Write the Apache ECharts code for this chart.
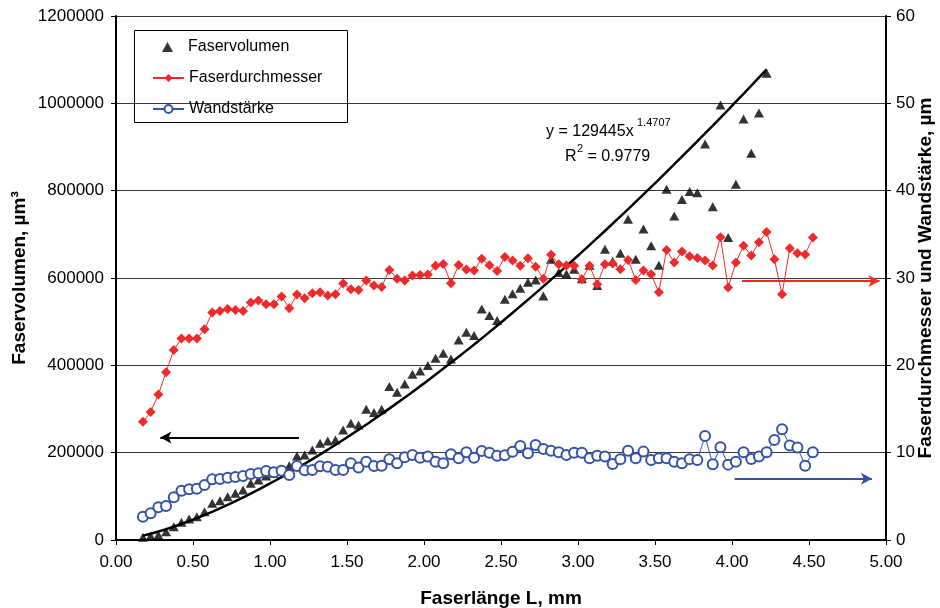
<!DOCTYPE html>
<html><head><meta charset="utf-8">
<script src="https://cdn.jsdelivr.net/npm/echarts@6/dist/echarts.min.js"></script>
<style>html,body{margin:0;padding:0;background:#fff}#c{width:940px;height:608px}</style>
</head><body><div id="c"></div>
<script>
// Faserlänge L, mm (x positions of the measured classes)
const lengthMM = [0.175,0.225,0.275,0.325,0.375,0.425,0.475,0.525,0.575,0.625,
  0.675,0.725,0.775,0.825,0.875,0.925,0.975,1.025,1.075,1.125,
  1.175,1.225,1.275,1.325,1.375,1.425,1.475,1.525,1.575,1.625,
  1.675,1.725,1.775,1.825,1.875,1.925,1.975,2.025,2.075,2.125,
  2.175,2.225,2.275,2.325,2.375,2.425,2.475,2.525,2.575,2.625,
  2.675,2.725,2.775,2.825,2.875,2.925,2.975,3.025,3.075,3.125,
  3.175,3.225,3.275,3.325,3.375,3.425,3.475,3.525,3.575,3.625,
  3.675,3.725,3.775,3.825,3.875,3.925,3.975,4.025,4.075,4.125,
  4.175,4.225,4.275,4.325,4.375,4.425,4.475,4.525];
// Faservolumen, µm³ (first 82 length classes)
const faservolumen = [6100,9200,11500,19100,30500,40500,48100,53500,64900,84000,
  90100,99300,107000,114500,129800,137500,146600,152700,161900,170000,
  192400,194700,206200,221500,226800,229100,252000,267300,263500,299300,
  291700,299300,351300,338300,357400,379500,387200,399400,416200,427600,
  414700,458200,475800,468100,529200,513900,502500,551400,564000,576600,
  590300,595600,559000,643000,612400,609400,620000,598000,629000,583000,
  665900,638500,656700,734600,643000,712000,674000,629000,803300,742000,
  780000,798000,795500,907000,763000,996000,693000,814500,964000,885800,
  978000,1069000];
// Faserdurchmesser, µm
const faserdurchmesser = [13.55,14.66,16.65,19.2,21.76,23.06,23.06,23.06,24.13,26.04,
  26.23,26.46,26.35,26.23,27.19,27.41,27.0,27.0,27.87,26.54,
  28.1,27.68,28.25,28.37,27.99,28.14,29.36,28.71,28.64,29.7,
  29.13,28.98,30.93,29.9,29.7,30.28,30.35,30.39,31.39,31.6,
  29.4,31.5,30.97,30.85,32.2,31.46,30.8,32.4,32.0,31.39,
  32.26,31.3,29.9,32.65,31.58,31.42,31.39,29.86,31.39,29.29,
  31.58,31.65,31.0,32.07,29.78,30.85,30.43,28.37,33.22,31.77,
  33.03,32.5,32.3,32.0,31.42,34.67,28.9,31.77,33.7,32.57,
  34.1,35.28,32.15,28.14,33.41,32.84,32.68,34.63];
// Wandstärke, µm
const wandstaerke = [2.67,3.05,3.74,3.89,4.89,5.65,5.8,5.88,6.3,6.95,
  6.99,7.14,7.22,7.33,7.56,7.64,7.9,7.75,7.94,7.45,
  8.48,7.98,8.02,8.44,8.4,8.02,8.02,8.78,8.29,8.97,
  8.48,8.51,9.24,8.78,9.47,9.74,9.43,9.55,8.97,8.78,
  9.81,9.35,10.04,9.43,10.19,10.0,9.66,9.7,10.1,10.77,
  9.93,10.88,10.42,10.23,10.04,9.74,10.0,10.0,9.35,9.66,
  9.55,8.7,9.24,10.23,9.35,10.12,9.16,9.35,9.35,8.97,
  8.78,9.26,9.16,11.9,8.67,10.61,8.63,8.97,10.04,9.28,
  9.55,10.04,11.45,12.68,10.81,10.58,8.51,10.04];
// Power trendline printed on the chart: y = 129445 x^1.4707, R² = 0.9779
const fitA = 129445, fitB = 1.4707;
const fitRange = [0.175, 4.225];
// Axis ranges / ticks
const xTicks = {min:0, max:5, interval:0.5};
const yLeftTicks = {min:0, max:1200000, interval:200000};
const yRightTicks = {min:0, max:60, interval:10};
// Arrow annotations [x1, y1, x2, y2] (arrow head at second point)
const arrowVolumen = [1.188, 235000, 0.288, 235000];
const arrowDurchmesser = [4.065, 29.67, 4.958, 29.67];
const arrowWand = [4.017, 7.02, 4.909, 7.02];

const volData = faservolumen.map((v,i)=>[lengthMM[i], v]);
const durchData = faserdurchmesser.map((v,i)=>[lengthMM[i], v]);
const wandData = wandstaerke.map((v,i)=>[lengthMM[i], v]);
const fitData = [];
for (let i=0;i<=80;i++){ const x = fitRange[0] + (fitRange[1]-fitRange[0])*i/80; fitData.push([x, fitA*Math.pow(x, fitB)]); }

const FONT = 'Liberation Sans, Arial, sans-serif';
const RED = '#ee2a2a', BLUE = '#3253a6';
const chart = echarts.init(document.getElementById('c'), null, {renderer:'canvas'});
function arrow(a, color, yi){
  return {type:'line', yAxisIndex: yi, data: [], silent:true, symbol:'none',
    markLine:{silent:true, symbol:['none','arrow'], symbolSize:[9,11], label:{show:false},
      lineStyle:{color:color, width:2, type:'solid'},
      data:[[{coord:[a[0],a[1]]},{coord:[a[2],a[3]]}]]}};
}
const legendText = {fontSize:16, color:'#000', fontFamily:FONT};
chart.setOption({
  animation:false,
  textStyle:{fontFamily:FONT},
  grid:{left:116, right:54, top:16, bottom:68, containLabel:false, outerBoundsMode:'none'},
  legend:[
    {orient:'vertical', left:162, top:39, itemWidth:11, itemHeight:10, padding:0,
     textStyle:Object.assign({padding:[0,0,0,10]}, legendText),
     data:['Faservolumen']},
    {orient:'vertical', left:152, top:70, itemGap:15, itemWidth:31, itemHeight:10, padding:0,
     textStyle:legendText,
     data:['Faserdurchmesser','Wandstärke']}
  ],
  xAxis:{type:'value', min:xTicks.min, max:xTicks.max, interval:xTicks.interval,
    name:'Faserlänge L, mm', nameLocation:'middle', nameGap:49, nameMoveOverlap:false,
    nameTextStyle:{fontSize:19, fontWeight:'bold', color:'#000'},
    axisLine:{lineStyle:{color:'#000', width:2}}, axisTick:{show:true, length:5, lineStyle:{color:'#000'}},
    axisLabel:{fontSize:17, color:'#000', margin:14, formatter:v=>v.toFixed(2)},
    splitLine:{show:false}},
  yAxis:[
    {type:'value', min:yLeftTicks.min, max:yLeftTicks.max, interval:yLeftTicks.interval,
     name:'Faservolumen, µm³', nameLocation:'middle', nameGap:87, nameRotate:90, nameMoveOverlap:false,
     nameTextStyle:{fontSize:19, fontWeight:'bold', color:'#000'},
     axisLine:{show:true, lineStyle:{color:'#000', width:2}}, axisTick:{show:true, length:5, lineStyle:{color:'#000'}},
     axisLabel:{fontSize:17, color:'#000', margin:12, formatter:v=>String(v)},
     splitLine:{show:true, lineStyle:{color:'#3a3a3a', width:1}}},
    {type:'value', min:yRightTicks.min, max:yRightTicks.max, interval:yRightTicks.interval, position:'right',
     name:'Faserdurchmesser und Wandstärke, µm', nameLocation:'middle', nameGap:30, nameRotate:90, nameMoveOverlap:false,
     nameTextStyle:{fontSize:19, fontWeight:'bold', color:'#000'},
     axisLine:{show:true, lineStyle:{color:'#000', width:2}}, axisTick:{show:true, length:5, lineStyle:{color:'#000'}},
     axisLabel:{fontSize:17, color:'#000', margin:10},
     splitLine:{show:false}}
  ],
  series:[
    {name:'Faservolumen', type:'scatter', yAxisIndex:0, data:volData, symbol:'triangle', symbolSize:[10,9],
     itemStyle:{color:'#000'}, z:2},
    {name:'Trend', type:'line', yAxisIndex:0, data:fitData, symbol:'none', smooth:false,
     lineStyle:{color:'#000', width:2.5}, z:3, silent:true},
    {name:'Faserdurchmesser', type:'line', yAxisIndex:1, data:durchData, symbol:'diamond', symbolSize:10,
     lineStyle:{color:RED, width:1}, itemStyle:{color:RED}, z:4},
    {name:'Wandstärke', type:'line', yAxisIndex:1, data:wandData, symbol:'emptyCircle', symbolSize:10,
     lineStyle:{color:BLUE, width:1}, itemStyle:{color:BLUE, borderColor:BLUE, borderWidth:1.3}, z:5},
    arrow(arrowVolumen, '#000', 0),
    arrow(arrowDurchmesser, RED, 1),
    arrow(arrowWand, BLUE, 1)
  ],
  graphic:[
    {type:'rect', left:132, top:28, shape:{width:213, height:92}, style:{fill:'none', stroke:'#000', lineWidth:1}, z:-1},
    {type:'text', left:546, top:124, style:{text:'y = 129445x', font:'16px '+FONT, fill:'#000'}},
    {type:'text', left:637, top:117, style:{text:'1.4707', font:'11px '+FONT, fill:'#000'}},
    {type:'text', left:565, top:149, style:{text:'R', font:'16px '+FONT, fill:'#000'}},
    {type:'text', left:577, top:143, style:{text:'2', font:'11px '+FONT, fill:'#000'}},
    {type:'text', left:583, top:149, style:{text:' = 0.9779', font:'16px '+FONT, fill:'#000'}}
  ]
});
</script></body></html>
